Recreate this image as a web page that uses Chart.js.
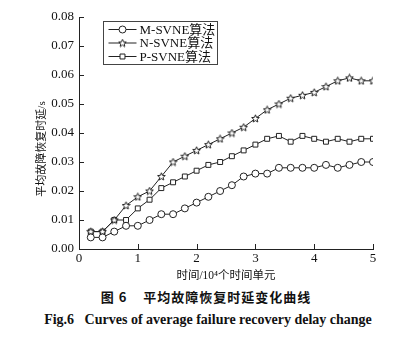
<!DOCTYPE html>
<html>
<head>
<meta charset="utf-8">
<script src="https://cdn.jsdelivr.net/npm/chart.js@4.4.1/dist/chart.umd.min.js"></script>
<style>
  html, body { margin: 0; padding: 0; background: #fff; }
  #wrap { position: relative; width: 412px; height: 285px; }
  .cap-cn {
    width: 412px; text-align: center; font-family: "Noto Sans CJK SC", sans-serif;
    font-weight: bold; font-size: 13px; letter-spacing: 1px; color: #111;
    margin-top: 2px; padding-left: 0px; box-sizing: border-box; line-height: 20px;
  }
  .cap-en {
    width: 412px; text-align: center; font-family: "Liberation Serif", serif;
    font-weight: bold; font-size: 14px; color: #111; margin-top: 4px;
    padding-left: 4px; box-sizing: border-box; line-height: 18px;
  }
</style>
</head>
<body>
<div id="wrap"><canvas id="c" width="412" height="285"></canvas></div>
<div class="cap-cn">图 6&nbsp;&nbsp;&nbsp;&nbsp;平均故障恢复时延变化曲线</div>
<div class="cap-en">Fig.6&nbsp;&nbsp;&nbsp;Curves of average failure recovery delay change</div>
<script>
  // 时间 (10^4 个时间单元)
  const timeX = [0.2, 0.4, 0.6, 0.8, 1.0, 1.2, 1.4, 1.6, 1.8, 2.0, 2.2, 2.4, 2.6,
    2.8, 3.0, 3.2, 3.4, 3.6, 3.8, 4.0, 4.2, 4.4, 4.6, 4.8, 5.0];
  const mSvne = [0.004, 0.004, 0.006, 0.008, 0.008, 0.010, 0.012, 0.012, 0.014, 0.016,
    0.018, 0.020, 0.022, 0.025, 0.026, 0.026, 0.028, 0.028, 0.028, 0.028, 0.029,
    0.028, 0.029, 0.030, 0.030];
  const nSvne = [0.006, 0.006, 0.010, 0.015, 0.018, 0.020, 0.025, 0.030, 0.032, 0.034,
    0.036, 0.038, 0.040, 0.042, 0.045, 0.048, 0.050, 0.052, 0.053, 0.054, 0.056,
    0.058, 0.059, 0.058, 0.058];
  const pSvne = [0.006, 0.006, 0.010, 0.010, 0.014, 0.017, 0.021, 0.023, 0.025, 0.027,
    0.029, 0.030, 0.032, 0.034, 0.036, 0.038, 0.039, 0.037, 0.039, 0.038, 0.037,
    0.038, 0.037, 0.038, 0.038];
  const seriesNames = ['M-SVNE算法', 'N-SVNE算法', 'P-SVNE算法'];
  const xTicks = [0, 1, 2, 3, 4, 5];
  const yTicks = [0, 0.01, 0.02, 0.03, 0.04, 0.05, 0.06, 0.07, 0.08];
  const xTitle = '时间/10⁴个时间单元';
  const yTitle = '平均故障恢复时延/s';

  const INK = '#222';
  const SERIF = '"Liberation Serif", "Noto Sans CJK SC", serif';

  // 五角星标记
  function makeStar() {
    const s = document.createElement('canvas');
    s.width = 9; s.height = 9;
    const g = s.getContext('2d');
    g.beginPath();
    for (let i = 0; i < 10; i++) {
      const r = i % 2 === 0 ? 4 : 1.8;
      const a = -Math.PI / 2 + i * Math.PI / 5;
      const px = 4.5 + r * Math.cos(a), py = 4.8 + r * Math.sin(a);
      if (i === 0) g.moveTo(px, py); else g.lineTo(px, py);
    }
    g.closePath();
    g.fillStyle = '#fff';
    g.fill();
    g.strokeStyle = INK;
    g.lineWidth = 1;
    g.stroke();
    return s;
  }
  const starImg = makeStar();

  function pts(vals) {
    return timeX.map(function (x, i) { return { x: x, y: vals[i] }; });
  }

  function ds(label, vals, style, r) {
    return {
      label: label,
      data: pts(vals),
      borderColor: INK,
      borderWidth: 1,
      backgroundColor: '#fff',
      pointStyle: style,
      pointRadius: r,
      pointBorderColor: INK,
      pointBackgroundColor: '#fff',
      pointBorderWidth: 1,
      tension: 0,
      fill: false,
    };
  }

  // 内向刻度、坐标轴标题、图例框
  const decor = {
    id: 'decor',
    afterDraw: function (chart) {
      const ctx = chart.ctx;
      const a = chart.chartArea;
      const xs = chart.scales.x, ys = chart.scales.y;
      ctx.save();
      ctx.strokeStyle = INK;
      ctx.lineWidth = 1;
      ctx.beginPath();
      xTicks.forEach(function (t) {
        const p = Math.round(xs.getPixelForValue(t)) + 0.5;
        ctx.moveTo(p, a.bottom); ctx.lineTo(p, a.bottom - 5);
      });
      yTicks.forEach(function (t) {
        const p = Math.round(ys.getPixelForValue(t)) + 0.5;
        ctx.moveTo(a.left, p); ctx.lineTo(a.left + 5, p);
      });
      ctx.stroke();

      ctx.fillStyle = '#111';
      ctx.font = '11.5px ' + SERIF;
      ctx.textAlign = 'center';
      ctx.textBaseline = 'middle';
      ctx.fillText(xTitle, (a.left + a.right) / 2, a.bottom + 27);
      ctx.save();
      ctx.translate(a.left - 37, (a.top + a.bottom) / 2 + 16);
      ctx.rotate(-Math.PI / 2);
      ctx.font = '11px ' + SERIF;
      ctx.fillText(yTitle, 0, 0);
      ctx.restore();

      // legend
      const bx = a.left + 24.5, by = a.top + 4.5, bw = 114, bh = 43;
      ctx.strokeStyle = '#444';
      ctx.strokeRect(bx, by, bw, bh);
      const styles = ['circle', starImg, 'rect'];
      const radii = [3.5, 4, 3.5];
      ctx.font = '13px ' + SERIF;
      ctx.textAlign = 'left';
      for (let i = 0; i < 3; i++) {
        const yy = by + 8 + i * 13.5;
        ctx.strokeStyle = INK;
        ctx.beginPath();
        ctx.moveTo(bx + 5, yy); ctx.lineTo(bx + 33, yy);
        ctx.stroke();
        ctx.fillStyle = '#fff';
        Chart.helpers.drawPoint(ctx, { pointStyle: styles[i], radius: radii[i], borderWidth: 1 }, bx + 19, yy);
        ctx.fillStyle = '#111';
        ctx.fillText(seriesNames[i], bx + 36, yy + 1);
      }
      ctx.restore();
    },
  };

  new Chart(document.getElementById('c'), {
    type: 'line',
    data: {
      datasets: [
        ds(seriesNames[0], mSvne, 'circle', 3.5),
        ds(seriesNames[1], nSvne, starImg, 4),
        ds(seriesNames[2], pSvne, 'rect', 3.5),
      ],
    },
    options: {
      responsive: false,
      animation: false,
      layout: { padding: { top: 17, right: 39, left: 0, bottom: 0 } },
      plugins: { legend: { display: false }, tooltip: { enabled: false } },
      scales: {
        x: {
          type: 'linear',
          min: 0,
          max: 5,
          afterBuildTicks: function (s) { s.ticks = xTicks.map(function (v) { return { value: v }; }); },
          afterFit: function (s) { s.height = 36; },
          grid: { display: false, drawTicks: false, tickLength: 0 },
          border: { display: true, color: INK, width: 1 },
          ticks: { color: '#111', font: { family: SERIF, size: 13 }, padding: 2, maxRotation: 0 },
        },
        y: {
          min: 0,
          max: 0.08,
          afterBuildTicks: function (s) { s.ticks = yTicks.map(function (v) { return { value: v }; }); },
          afterFit: function (s) { s.width = 79; },
          grid: { display: false, drawTicks: false, tickLength: 0 },
          border: { display: true, color: INK, width: 1 },
          ticks: {
            color: '#111',
            font: { family: SERIF, size: 13 },
            padding: 5,
            callback: function (v) { return Number(v).toFixed(2); },
          },
        },
      },
    },
    plugins: [decor],
  });
</script>
</body>
</html>
